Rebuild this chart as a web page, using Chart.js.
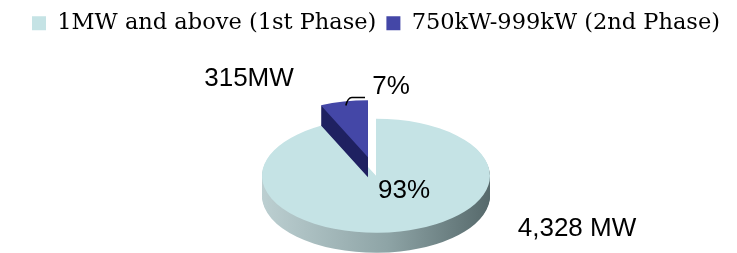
<!DOCTYPE html>
<html><head><meta charset="utf-8">
<script src="https://cdn.jsdelivr.net/npm/chart.js@4"></script>
<style>html,body{margin:0;padding:0;background:#fff;overflow:hidden}#wrap{width:737px;height:253px;overflow:hidden}</style>
</head><body><div id="wrap"><canvas id="c" width="737" height="307"></canvas></div>
<script>
// ---- data ----
const categories = ['1MW and above (1st Phase)', '750kW-999kW (2nd Phase)'];
const capacityMW = [4328, 315];
const valueLabels = ['4,328 MW', '315MW'];

// ---- styles ----
const topColors = ['#c5e3e5', '#4447a7'];
const sideSolid = '#1f2161';
const SQUASH = 0.5, DEPTH = 20, RADIUS = 114;
const explode = [0, 38];
// label anchors relative to pie centre (px)
const pctAnchors = [[28, 15], [15, -89]];
const valAnchors = [[201, 53], [-127, -97]];

const total = capacityMW.reduce((a, b) => a + b, 0);
const pctLabels = capacityMW.map(v => Math.round(v / total * 100) + '%');

function place(ctx, arc, a0, i, dy) {
  const mid = (arc.startAngle + arc.endAngle) / 2;
  ctx.translate(0, dy);
  ctx.translate(a0.x, a0.y); ctx.scale(1, SQUASH); ctx.translate(-a0.x, -a0.y);
  ctx.translate(Math.cos(mid) * explode[i], Math.sin(mid) * explode[i]);
}
function drawSide(ctx, arc, a0, i, fill) {
  const o = arc.options, bg = o.backgroundColor;
  o.backgroundColor = fill;
  for (let d = DEPTH; d >= 1; d--) {
    ctx.save();
    place(ctx, arc, a0, i, d);
    arc.draw(ctx);
    ctx.restore();
  }
  o.backgroundColor = bg;
}
function drawTop(ctx, arc, a0, i) {
  ctx.save();
  place(ctx, arc, a0, i, 0);
  arc.draw(ctx);
  ctx.restore();
}

const pie3d = {
  id: 'pie3d',
  beforeDatasetsDraw(chart) {
    const ctx = chart.ctx;
    const arcs = chart.getDatasetMeta(0).data;
    const a0 = arcs[0], r = a0.outerRadius;
    const grad = ctx.createLinearGradient(a0.x - r, 0, a0.x + r, 0);
    grad.addColorStop(0, '#bccfd1');
    grad.addColorStop(0.55, '#8ea4a6');
    grad.addColorStop(1, '#56696b');
    drawSide(ctx, arcs[0], a0, 0, grad);
    drawTop(ctx, arcs[0], a0, 0);
    drawSide(ctx, arcs[1], a0, 1, sideSolid);
    drawTop(ctx, arcs[1], a0, 1);

    const cx = a0.x, cy = a0.y;
    ctx.save();
    ctx.fillStyle = '#000';
    ctx.font = '26px "Liberation Sans", Arial, sans-serif';
    ctx.textAlign = 'center';
    ctx.textBaseline = 'middle';
    pctLabels.forEach((t, i) => ctx.fillText(t, cx + pctAnchors[i][0], cy + pctAnchors[i][1]));
    valueLabels.forEach((t, i) => ctx.fillText(t, cx + valAnchors[i][0], cy + valAnchors[i][1]));
    // leader line for small slice
    const a1 = arcs[1];
    const mid = (a1.startAngle + a1.endAngle) / 2;
    const rr = a1.outerRadius + explode[1];
    const sx = cx + Math.cos(mid) * rr, sy = cy + Math.sin(mid) * rr * SQUASH + 2;
    ctx.strokeStyle = '#000';
    ctx.lineWidth = 1.5;
    ctx.beginPath();
    ctx.moveTo(sx + 2, sy + 2);
    ctx.quadraticCurveTo(sx + 4, sy - 6, sx + 8, sy - 6);
    ctx.lineTo(cx + pctAnchors[1][0] - 26, sy - 6);
    ctx.stroke();
    ctx.restore();
    return false;
  }
};

new Chart(document.getElementById('c'), {
  type: 'pie',
  data: {
    labels: categories,
    datasets: [{
      data: capacityMW,
      backgroundColor: topColors,
      borderWidth: 0,
      hoverOffset: 0,
      clip: false
    }]
  },
  options: {
    responsive: false,
    animation: false,
    events: [],
    radius: RADIUS,
    layout: { padding: { left: 15, right: 0, top: 2, bottom: 0 } },
    plugins: {
      legend: {
        position: 'top',
        labels: {
          boxWidth: 14, boxHeight: 14, padding: 10, color: '#000',
          font: { family: '"DejaVu Serif", "Liberation Serif", serif', size: 22.5 }
        }
      },
      tooltip: { enabled: false }
    }
  },
  plugins: [pie3d]
});
</script>
</body></html>
